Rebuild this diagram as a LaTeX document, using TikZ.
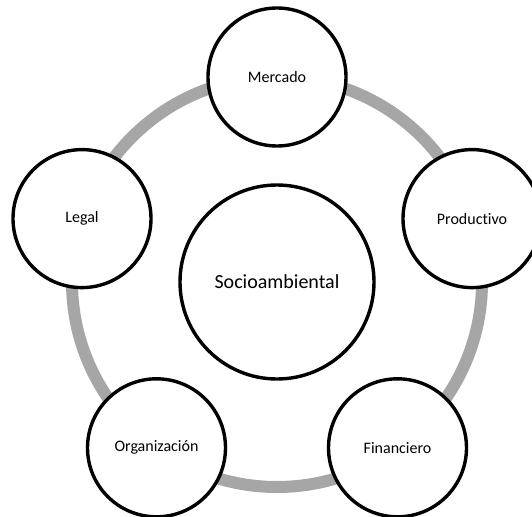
\documentclass[tikz,border=0pt]{standalone}
\usepackage{fontspec}
\setmainfont{Carlito}[Ligatures=NoCommon]
\definecolor{ringgray}{HTML}{A6A6A6}
\tikzset{
  ring/.style={draw=ringgray, line width=12pt},
  bubble/.style={circle, draw=black, line width=3.4pt, fill=white,
    minimum size=138pt, inner sep=0pt, font=\fontsize{16}{18}\selectfont},
  hub/.style={circle, draw=black, line width=3.4pt, fill=white,
    minimum size=194pt, inner sep=0pt, font=\fontsize{20}{24}\selectfont}
}
\begin{document}
\begin{tikzpicture}[x=1pt, y=-1pt]
  \useasboundingbox (0,0) rectangle (532,516);
  \clip (0,0) rectangle (532,516);
  \fill[white] (0,0) rectangle (532,516);
  % central hub and the ring that links the five areas
  \coordinate (c) at (277,282);
  \draw[ring] (c) circle[radius=205pt];
  \node[hub] (soc) at (c) {Socioambiental};
  % the five areas on the ring
  \node[bubble] (mer) at (277,77)      {Mercado};
  \node[bubble] (pro) at (472,218.6)   {Productivo};
  \node[bubble] (leg) at (82,218.6)    {Legal};
  \node[bubble] (fin) at (397.5,447.8) {Financiero};
  \node[bubble] (org) at (156.5,447.8) {Organización};
\end{tikzpicture}
\end{document}
